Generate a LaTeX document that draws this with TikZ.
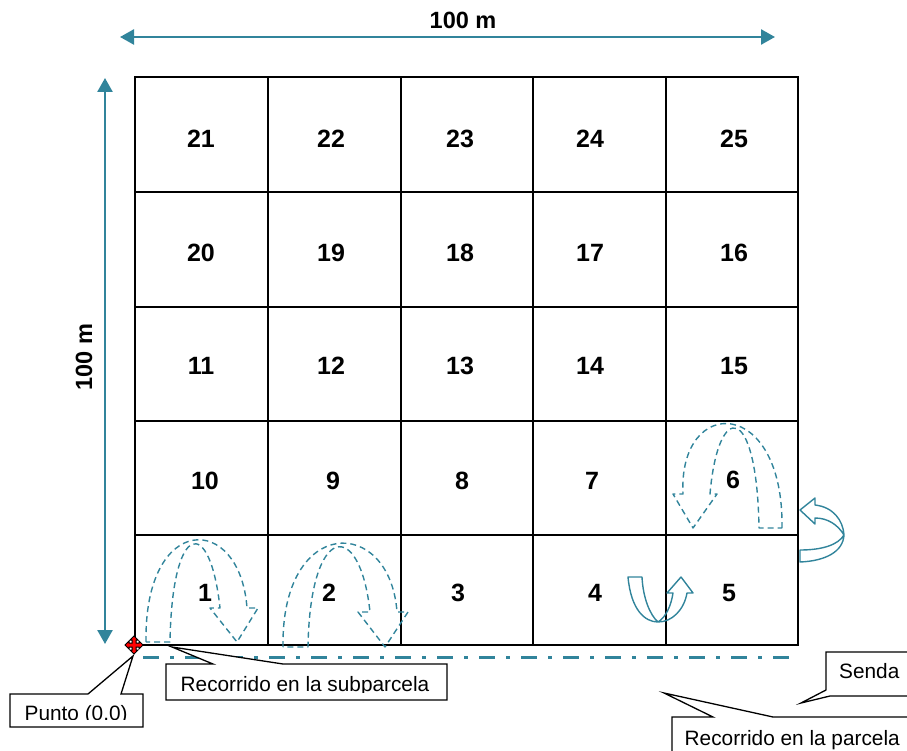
\documentclass[tikz,border=0pt]{standalone}
\usepackage{fontspec}
\setmainfont{Liberation Sans}
\usetikzlibrary{arrows.meta}
\definecolor{teal1}{RGB}{49,132,155}
\begin{document}
\begin{tikzpicture}[x=1pt,y=-1pt,
  num/.style={font=\fontsize{25}{25}\selectfont\bfseries, inner sep=0},
  dimlbl/.style={font=\fontsize{23.5}{23.5}\selectfont\bfseries, inner sep=0},
  dimarrow/.style={draw=teal1, line width=2.5pt, {Triangle[length=14pt,width=15pt]}-{Triangle[length=14pt,width=15pt]}},
  gridline/.style={draw=black, line width=2pt},
  callout/.style={draw=black, line width=1.3pt, fill=white, line join=miter},
  ctext/.style={font=\fontsize{20.8}{20.8}\selectfont, inner sep=0, anchor=base west},
  dasharrow/.style={draw=teal1, line width=1.4pt, dash pattern=on 6pt off 4pt, line join=round},
  solidarrow/.style={draw=teal1, line width=1.4pt, line join=round},
  trail/.style={draw=teal1, line width=3pt, dash pattern=on 16pt off 11pt on 4pt off 11pt}]
\useasboundingbox (0,0) rectangle (907,751);
\clip (0,0) rectangle (907,751);

% grid
\draw[gridline] (135,77) rectangle (798,645);
\foreach \x in {268,401,533,666} \draw[gridline] (\x,77) -- (\x,645);
\foreach \y in {192,307,421,535} \draw[gridline] (135,\y) -- (798,\y);

% cell numbers
\node[num] (c21) at (201,139) {21};
\node[num] (c22) at (331,139) {22};
\node[num] (c23) at (460,139) {23};
\node[num] (c24) at (590,139) {24};
\node[num] (c25) at (734,139) {25};
\node[num] (c20) at (201,253) {20};
\node[num] (c19) at (331,253) {19};
\node[num] (c18) at (460,253) {18};
\node[num] (c17) at (590,253) {17};
\node[num] (c16) at (734,253) {16};
\node[num] (c11) at (201,366) {11};
\node[num] (c12) at (331,366) {12};
\node[num] (c13) at (460,366) {13};
\node[num] (c14) at (590,366) {14};
\node[num] (c15) at (734,366) {15};
\node[num] (c10) at (205,481) {10};
\node[num] (c9) at (333,481) {9};
\node[num] (c8) at (462,481) {8};
\node[num] (c7) at (592,481) {7};
\node[num] (c6) at (733,480) {6};
\node[num] (c1) at (205,593) {1};
\node[num] (c2) at (329,593) {2};
\node[num] (c3) at (458,593) {3};
\node[num] (c4) at (595,593) {4};
\node[num] (c5) at (729,593) {5};

% dimension arrows
\coordinate (hl) at (120,37);
\coordinate (hr) at (775,37);
\draw[dimarrow] (hl) -- (hr);
\node[dimlbl] (htxt) at (463,20) {100 m};
\coordinate (vt) at (105,78);
\coordinate (vb) at (105,644);
\draw[dimarrow] (vt) -- (vb);
\node[dimlbl, rotate=90] (vtxt) at (84,357) {100 m};

% trail (senda)
\coordinate (ts) at (143,657);
\coordinate (te) at (798,657);
\draw[trail] (ts) -- (te);

% dashed subplot routes
\draw[dasharrow] (146,642) .. controls (144,512) and (240,512) .. (247,608) -- (258,608) -- (237,642) -- (210,608) -- (220,608) .. controls (210,515) and (172,520) .. (170,642) -- cycle;
\draw[dasharrow] (283,647) .. controls (281,515) and (390,515) .. (397,612) -- (408,612) -- (385,647) -- (358,612) -- (370,612) .. controls (360,518) and (310,522) .. (308,647) -- cycle;
\draw[dasharrow] (782,528) .. controls (784,395) and (678,395) .. (683,494) -- (673,494) -- (693,528) -- (717,494) -- (710,494) .. controls (718,400) and (757,402) .. (759,528) -- cycle;

% solid route arrows
\draw[solidarrow] (628,577) -- (642,577) .. controls (643,598) and (650,615) .. (658,622) .. controls (666,617) and (671,606) .. (673,593) -- (667,593) -- (681,577) -- (693,593) -- (687,593) .. controls (684,610) and (672,622) .. (658,622) .. controls (645,622) and (631,610) .. (628,577) -- cycle;
\draw[solidarrow] (800,510) -- (815,498) -- (815,505) .. controls (833,507) and (843,520) .. (844,535) .. controls (843,552) and (825,561) .. (800,562) -- (800,550) .. controls (822,550) and (838,545) .. (844,535) .. controls (838,525) and (828,518) .. (815,518) -- (815,524) -- cycle;

% origin marker
\coordinate (org) at (134,645);
\draw[fill=red, draw=black, line width=1pt, shift={(org)}]
  (0,-9) -- (-4,-5) -- (-2,-5) -- (-2,-2) -- (-5,-2) -- (-5,-4) -- (-9,0) -- (-5,4) -- (-5,2) -- (-2,2) -- (-2,5) -- (-4,5) -- (0,9) -- (4,5) -- (2,5) -- (2,2) -- (5,2) -- (5,4) -- (9,0) -- (5,-4) -- (5,-2) -- (2,-2) -- (2,-5) -- (4,-5) -- cycle;

% callouts
\coordinate (ptip) at (133,656);
\draw[callout] (10,694) -- (88,694) -- (ptip) -- (121,694) -- (143,694) -- (143,727) -- (10,727) -- cycle;
\begin{scope}
  \clip (10,694) rectangle (143,719);
  \node[ctext] (punto) at (24.5,720) {Punto (0.0)};
\end{scope}

\coordinate (stip) at (172,647);
\draw[callout] (166,664) -- (213,664) -- (stip) -- (283,664) -- (447,664) -- (447,700) -- (166,700) -- cycle;
\begin{scope}
  \clip (166,664) rectangle (447,692);
  \node[ctext] (subp) at (180.5,691) {Recorrido en la subparcela};
\end{scope}

\coordinate (sdtip) at (801,703);
\draw[callout] (920,652) -- (826,652) -- (826,690) -- (sdtip) -- (830,696) -- (920,696) -- cycle;
\node[ctext] (senda) at (839,678) {Senda};

\coordinate (rtip) at (664,693);
\draw[callout] (672,760) -- (672,717) -- (713,717) -- (rtip) -- (773,717) -- (920,717) -- (920,760) -- cycle;
\node[ctext] (parc) at (684.5,745) {Recorrido en la parcela};
\end{tikzpicture}
\end{document}
